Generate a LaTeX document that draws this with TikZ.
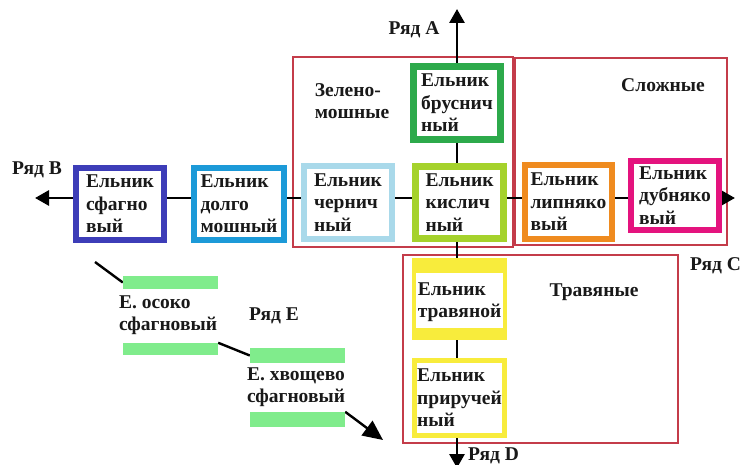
\documentclass[tikz,border=0pt]{standalone}
\usepackage{fontspec}
\setmainfont{Liberation Serif}
\usetikzlibrary{arrows.meta,calc}
\definecolor{cBlue}{HTML}{3D3DB8}
\definecolor{cCyan}{HTML}{1C9AD8}
\definecolor{cLight}{HTML}{A9D9EA}
\definecolor{cLime}{HTML}{A5D22C}
\definecolor{cGreen}{HTML}{2DAA4B}
\definecolor{cOrange}{HTML}{EF8B1F}
\definecolor{cMagenta}{HTML}{E4137E}
\definecolor{cYellow}{HTML}{F8EC3C}
\definecolor{frameRed}{HTML}{C43C4A}
\definecolor{barGreen}{HTML}{80EC8C}
\pgfdeclarelayer{frames}
\pgfdeclarelayer{links}
\pgfsetlayers{frames,links,main}
\begin{document}
\begin{tikzpicture}[x=1pt,y=-1pt,
  txt/.style={font=\fontsize{19.5}{22.5}\selectfont\bfseries, text=black!90, align=left, inner sep=0pt},
  typebox/.style={txt, draw=#1, line width=6pt, fill=white},
  grp/.style={draw=frameRed, line width=2.2pt},
  ax/.style={line width=2.8pt, draw=black},
  axarrow/.style={ax, -{Triangle[length=14pt,width=15pt]}},
  diag/.style={line width=2.4pt, draw=black},
  bar/.style={fill=barGreen, inner sep=0pt, minimum width=95pt}
]
\useasboundingbox (0,0) rectangle (743,465);

% axis crossing point
\coordinate (ax) at (457,198);
\coordinate (A) at (457,9);
\coordinate (B) at (35,198);
\coordinate (C) at (735,198);
\coordinate (D) at (457,468);

% white ground and group frames
\begin{pgfonlayer}{frames}
  \fill[white] (0,0) rectangle (743,465);
  \draw[grp] (293,57) rectangle (513,247);
  \draw[grp] (515,58) rectangle (727,245);
  \draw[grp] (403,255) rectangle (678,443);
\end{pgfonlayer}

% spruce forest types
\node[typebox=cBlue, minimum width=88pt, minimum height=72pt] (sfag) at (120,204) {Ельник\\сфагно\\вый};
\node[typebox=cCyan, minimum width=90pt, minimum height=72pt] (dolgo) at (239,204) {Ельник\\долго\\мошный};
\node[typebox=cLight, minimum width=88pt, minimum height=73pt] (chern) at (348,202.5) {Ельник\\чернич\\ный};
\node[typebox=cLime, line width=7pt, minimum width=88pt, minimum height=72pt] (kisl) at (459.5,202.5) {Ельник\\кислич\\ный};
\node[typebox=cGreen, line width=7pt, minimum width=87pt, minimum height=73pt] (brusn) at (457,103) {Ельник\\бруснич\\ный};
\node[typebox=cOrange, minimum width=87pt, minimum height=74pt] (lipn) at (568.5,202) {Ельник\\липняко\\вый};
\node[typebox=cMagenta, minimum width=88pt, minimum height=69pt] (dubn) at (675,195.5) {Ельник\\дубняко\\вый};
\node[fill=cYellow, minimum width=95pt, minimum height=82pt, inner sep=0pt] (trav) at (459.5,299) {};
\fill[white] ($(trav.north west)+(4,15)$) rectangle ($(trav.south east)+(-4,-12)$);
\node[txt] at (459.5,302) {Ельник\\травяной};
\node[typebox=cYellow, line width=5pt, minimum width=90pt, minimum height=75pt] (prip) at (459.5,398) {Ельник\\приручей\\ный};

% green bars of series E
\node[bar, minimum height=13pt] (bar1) at (170.5,282.5) {};
\node[bar, minimum height=12pt] (bar2) at (170.5,349) {};
\node[bar, minimum height=15pt] (bar3) at (297.5,355.5) {};
\node[bar, minimum height=15pt] (bar4) at (297.5,419.5) {};
\node[txt] (osoko) at (168,315) {Е. осоко\\сфагновый};
\node[txt] (xvosh) at (296,387) {Е. хвощево\\сфагновый};

% series labels
\node[txt] (lA) at (414,30) {Ряд А};
\node[txt] (lB) at (37,170) {Ряд В};
\node[txt, anchor=west] (lC) at (690,266) {Ряд С};
\node[txt, anchor=west] (lD) at (468,456) {Ряд D};
\node[txt] (lE) at (274,316) {Ряд Е};

% group labels
\node[txt] (gZ) at (352,101) {Зелено-\\мошные};
\node[txt] (gS) at (663,85) {Сложные};
\node[txt] (gT) at (594,292) {Травяные};

\coordinate (E0) at (95,262);
\coordinate (E1) at (383,440);

\begin{pgfonlayer}{links}
  % horizontal series B -- C
  \draw[axarrow] (sfag.west |- ax) -- (B);
  \draw[ax] (sfag.east |- ax) -- (dolgo.west |- ax);
  \draw[ax] (dolgo.east |- ax) -- (chern.west |- ax);
  \draw[ax] (chern.east |- ax) -- (kisl.west |- ax);
  \draw[ax] (kisl.east |- ax) -- (lipn.west |- ax);
  \draw[ax] (lipn.east |- ax) -- (dubn.west |- ax);
  \draw[axarrow] (dubn.east |- ax) -- (C);
  % vertical series A -- D
  \draw[axarrow] (brusn.north -| ax) -- (A);
  \draw[ax] (brusn.south -| ax) -- (kisl.north -| ax);
  \draw[ax] (kisl.south -| ax) -- (trav.north -| ax);
  \draw[ax] (trav.south -| ax) -- (prip.north -| ax);
  \draw[axarrow] (prip.south -| ax) -- (D);
  % diagonal series E
  \draw[diag] (E0) -- (bar1.west);
  \draw[diag] (bar2.north east) -- (bar3.west);
  \draw[diag, -{Triangle[length=20pt,width=18pt]}] (bar4.north east) -- (E1);
\end{pgfonlayer}
\end{tikzpicture}
\end{document}
